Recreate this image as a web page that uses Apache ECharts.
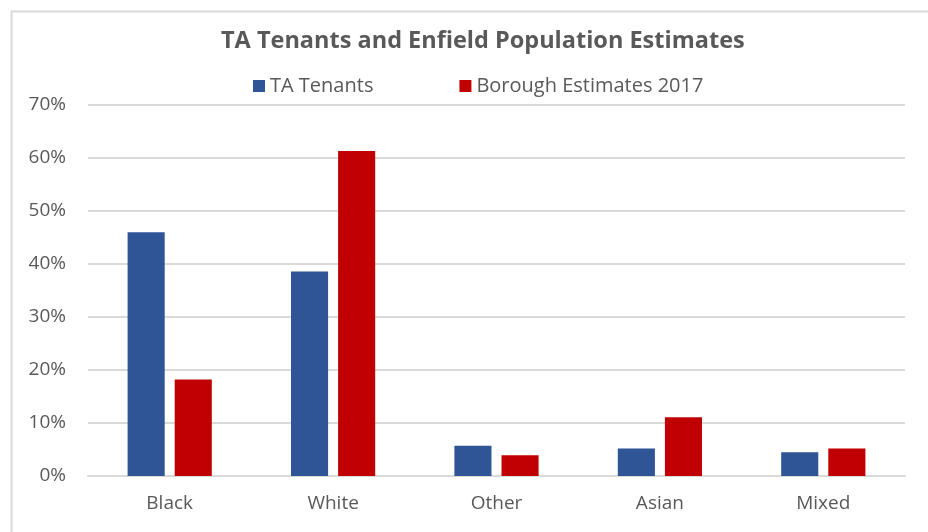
<!DOCTYPE html>
<html>
<head>
<meta charset="utf-8">
<script src="https://cdn.jsdelivr.net/npm/echarts@6/dist/echarts.min.js"></script>
<style>
html,body{margin:0;padding:0;background:#fff;}
#chart{width:928px;height:532px;}
</style>
</head>
<body>
<div id="chart"></div>
<script>
var categories = ['Black', 'White', 'Other', 'Asian', 'Mixed'];
var taTenants = [46.0, 38.6, 5.7, 5.2, 4.5];
var boroughEstimates = [18.2, 61.3, 3.9, 11.1, 5.2];
var seriesNames = ['TA Tenants', 'Borough Estimates 2017'];
var titleText = 'TA Tenants and Enfield Population Estimates';

var chart = echarts.init(document.getElementById('chart'));
var font = 'Open Sans';
chart.setOption({
  animation: false,
  backgroundColor: '#fff',
  graphic: [{
    type: 'rect', left: 9, top: 9,
    shape: {width: 1000, height: 1000},
    style: {fill: 'none', stroke: '#d9d9d9', lineWidth: 2},
    silent: true
  }],
  title: {
    text: titleText,
    left: 216, top: 24,
    textStyle: {fontFamily: font, fontWeight: 'bold', fontSize: 23.5, color: '#595959'}
  },
  legend: {
    data: seriesNames,
    top: 71, left: 248,
    itemWidth: 12, itemHeight: 12, itemGap: 86,
    icon: 'rect',
    textStyle: {fontFamily: font, fontSize: 20, color: '#595959'}
  },
  grid: {left: 88, right: 23, top: 105, bottom: 56, containLabel: false},
  xAxis: {
    type: 'category',
    data: categories,
    axisLine: {show: true, lineStyle: {color: '#d9d9d9', width: 2}},
    axisTick: {show: false},
    axisLabel: {fontFamily: font, fontSize: 19, color: '#595959', margin: 18}
  },
  yAxis: {
    type: 'value',
    min: 0, max: 70, interval: 10,
    axisLine: {show: false},
    axisTick: {show: false},
    axisLabel: {fontFamily: font, fontSize: 19, color: '#595959', margin: 22, formatter: '{value}%'},
    splitLine: {lineStyle: {color: '#d9d9d9', width: 2}}
  },
  series: [{
    name: seriesNames[0],
    type: 'bar',
    data: taTenants,
    barWidth: '22.7%',
    barGap: '27%',
    itemStyle: {color: '#2f5597'}
  }, {
    name: seriesNames[1],
    type: 'bar',
    data: boroughEstimates,
    barWidth: '22.7%',
    itemStyle: {color: '#c00000'}
  }]
});
</script>
</body>
</html>
